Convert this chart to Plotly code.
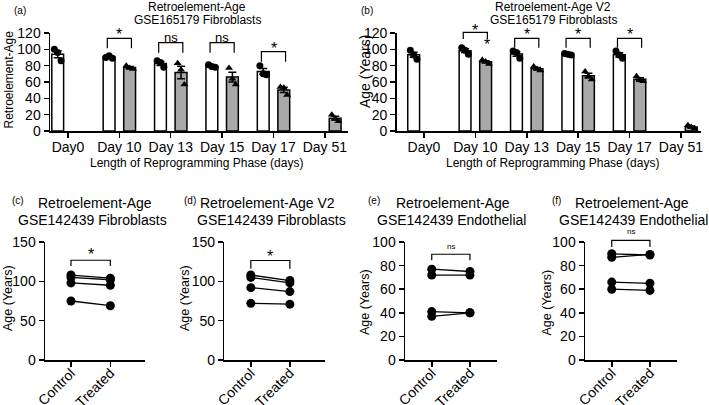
import numpy as np
import plotly.graph_objects as go

W, H = 709, 405

# ---------------- data ----------------
days = ["Day0", "Day 10", "Day 13", "Day 15", "Day 17", "Day 51"]

# panel (a) Retroelement-Age, GSE165179 (3 replicates per group, None = no group)
a_control = [[100, 96, 86], [90, 92, 89], [86, 84, 78], [81, 79, 78], [80, 70, 69], None]
a_treated = [None, [80, 77, 76], [83, 75, 57], [77, 64, 57], [54, 53, 44], [20, 15, 12]]

# panel (b) Retroelement-Age V2, GSE165179
b_control = [[99, 93, 88], [102, 99, 94], [98, 96, 89], [95, 94, 93], [98, 93, 89], None]
b_treated = [None, [87, 85, 82], [79, 76, 74], [73, 67, 63], [67, 62, 61], [7, 5, 3]]

pair_labels = ["Control", "Treated"]
c_control = [108, 105, 98, 75]
c_treated = [104, 102, 95, 69]
d_control = [108, 105, 92, 72]
d_treated = [101, 98, 87, 71]
e_control = [77, 72, 41, 37]
e_treated = [75, 72, 40, 40]
f_control = [90, 87, 66, 60]
f_treated = [89, 89.5, 65, 59]

# ---------------- style ----------------
FONT = "Arial, Liberation Sans, Helvetica, sans-serif"
GRAY = "#a9a9a9"
LW = 1.5
BAR_OFF = 0.2
BAR_W = 0.23
JITTER = [-0.065, 0.0, 0.065]
STAR = 16


def X(p):
    return p / W


def Y(p):
    return 1 - p / H


fig = go.Figure()
shapes = []
ann = []


def add_bar_panel(xa, ya, ctrl, trt):
    for groups, off, fill, sym in [(ctrl, -BAR_OFF, "white", "circle"),
                                   (trt, BAR_OFF, GRAY, "triangle-up")]:
        xs, means, sems, px, py = [], [], [], [], []
        for i, g in enumerate(groups):
            if g is None:
                continue
            arr = np.array(g, dtype=float)
            xs.append(i + off)
            means.append(arr.mean())
            sems.append(arr.std(ddof=1) / np.sqrt(len(arr)))
            for j, v in enumerate(g):
                px.append(i + off + JITTER[j % len(JITTER)])
                py.append(v)
        fig.add_trace(go.Bar(
            x=xs, y=means, width=BAR_W, xaxis=xa, yaxis=ya,
            marker=dict(color=fill, line=dict(color="black", width=LW)),
            error_y=dict(type="data", array=sems, color="black", thickness=LW, width=4),
            showlegend=False, hoverinfo="skip"))
        fig.add_trace(go.Scatter(
            x=px, y=py, mode="markers", xaxis=xa, yaxis=ya,
            marker=dict(symbol=sym, size=7, color="black"),
            showlegend=False, cliponaxis=False, hoverinfo="skip"))


def add_pair_panel(xa, ya, ctrl, trt):
    for c, t in zip(ctrl, trt):
        fig.add_trace(go.Scatter(
            x=[0, 1], y=[c, t], mode="lines+markers", xaxis=xa, yaxis=ya,
            line=dict(color="black", width=1.3),
            marker=dict(symbol="circle", size=9, color="black"),
            showlegend=False, cliponaxis=False, hoverinfo="skip"))


add_bar_panel("x", "y", a_control, a_treated)
add_bar_panel("x2", "y2", b_control, b_treated)
add_pair_panel("x3", "y3", c_control, c_treated)
add_pair_panel("x4", "y4", d_control, d_treated)
add_pair_panel("x5", "y5", e_control, e_treated)
add_pair_panel("x6", "y6", f_control, f_treated)


def star(xr, yr, ymax, x, y, text, size):
    ann.append(dict(xref=xr, yref=yr + " domain", x=x, y=y / ymax,
                    text=text, showarrow=False, font=dict(size=size, color="black", family=FONT),
                    xanchor="center", yanchor="middle"))


def bracket(xr, yr, ymax, x0, x1, ytop, ybot, text, ty, tsize):
    shapes.append(dict(
        type="path", xref=xr, yref=yr + " domain",
        path=f"M {x0},{ybot / ymax} L {x0},{ytop / ymax} L {x1},{ytop / ymax} L {x1},{ybot / ymax}",
        line=dict(color="black", width=1.2)))
    star(xr, yr, ymax, (x0 + x1) / 2, ty, text, tsize)


bw = 0.235
# panel (a)
bracket("x", "y", 120, 1 - bw, 1 + bw, 113.5, 101.2, "*", 118, STAR)
bracket("x", "y", 120, 2 - bw, 2 + bw, 108.1, 95.9, "ns", 114.2, 13)
bracket("x", "y", 120, 3 - bw, 3 + bw, 108.1, 95.9, "ns", 114.2, 13)
bracket("x", "y", 120, 4 - bw, 4 + bw, 97.1, 84.9, "*", 101.5, STAR)
# panel (b)
bracket("x2", "y2", 120, 1 - bw, 1 + bw, 120.8, 112.8, "*", 123, STAR)
star("x2", "y2", 120, 1 + bw, 106.5, "*", STAR)
for k in (2, 3, 4):
    bracket("x2", "y2", 120, k - bw, k + bw, 113.5, 102, "*", 118, STAR)
# bottom panels
bracket("x3", "y3", 150, 0, 1, 126.8, 119.6, "*", 134, STAR)
bracket("x4", "y4", 150, 0, 1, 126.5, 116, "*", 132, STAR)
bracket("x5", "y5", 100, 0, 1, 89.6, 84.5, "ns", 96.3, 8)
bracket("x6", "y6", 100, 0, 1, 101.4, 95.8, "ns", 108.5, 8)


def text(px, py, s, size, angle=0):
    ann.append(dict(xref="paper", yref="paper", x=X(px), y=Y(py), text=s, showarrow=False,
                    textangle=angle, xanchor="center", yanchor="middle",
                    font=dict(size=size, color="black", family=FONT)))


# titles and labels
text(20, 10, "(a)", 10)
text(197, 6.5, "Retroelement-Age", 12)
text(197, 19.5, "GSE165179 Fibroblasts", 12)
text(196, 162.5, "Length of Reprogramming Phase (days)", 12)
text(8.5, 80, "Retroelement-Age", 12, -90)

text(367, 10, "(b)", 10)
text(553, 6.5, "Retroelement-Age V2", 12)
text(553, 19.5, "GSE165179 Fibroblasts", 12)
text(552, 162.5, "Length of Reprogramming Phase (days)", 12)
text(365, 72, "Age (Years)", 14, -90)

bottom = [
    ("(c)", 18, 95, 92, "Retroelement-Age", 8, 298),
    ("(d)", 190, 267, 271, "Retroelement-Age V2", 185, 298),
    ("(e)", 374, 453, 451, "Retroelement-Age", 365, 302),
    ("(f)", 556, 632, 633, "Retroelement-Age", 546.5, 303),
]
for lab, lx, t1x, t2x, t1, yx, yy in bottom:
    text(lx, 201, lab, 10)
    text(t1x, 203, t1, 14)
    text(t2x, 220, "GSE142439 " + ("Fibroblasts" if lab in ("(c)", "(d)") else "Endothelial"), 14)
    text(yx, yy, "Age (Years)", 12.5, -90)

axis_common = dict(showline=True, linecolor="black", linewidth=LW, ticks="outside",
                   ticklen=5, tickwidth=LW, tickcolor="black", showgrid=False,
                   zeroline=False, fixedrange=True, automargin=False,
                   tickfont=dict(size=14, color="black", family=FONT))

layout_axes = {}
# top panels
for n, (x0, x1, r0, r1) in {"": (50, 348, -0.35, 5.45), "2": (396.7, 701, -0.53, 5.39)}.items():
    layout_axes["xaxis" + n] = dict(axis_common, domain=[X(x0), X(x1)], range=[r0, r1],
                                    tickvals=list(range(len(days))), ticktext=days,
                                    ticklabelstandoff=-2, anchor="y" + n)
    layout_axes["yaxis" + n] = dict(axis_common, domain=[Y(131), Y(33)], range=[0, 120],
                                    tick0=0, dtick=20, anchor="x" + n)
# bottom panels
for n, (x0, x1, r0, r1, ymax, dt) in {
        "3": (45, 145, -0.66, 1.88, 150, 50),
        "4": (224.3, 325, -0.68, 1.9, 150, 50),
        "5": (405, 496.7, -0.70, 1.70, 100, 20),
        "6": (585, 676.7, -0.70, 1.70, 100, 20)}.items():
    layout_axes["xaxis" + n] = dict(axis_common, domain=[X(x0), X(x1)], range=[r0, r1],
                                    tickvals=[0, 1], ticktext=pair_labels, tickangle=-45,
                                    ticklabelstandoff=-7, anchor="y" + n)
    layout_axes["yaxis" + n] = dict(axis_common, domain=[Y(360), Y(242)], range=[0, ymax],
                                    tick0=0, dtick=dt, anchor="x" + n)

fig.update_layout(
    template="none",
    width=W, height=H, margin=dict(l=0, r=0, t=0, b=0, autoexpand=False),
    paper_bgcolor="white", plot_bgcolor="white",
    barmode="overlay", showlegend=False,
    font=dict(family=FONT, color="black"),
    shapes=shapes, annotations=ann, **layout_axes)

fig.write_html("out.html", config={"displayModeBar": False, "staticPlot": True},
               post_script="document.body.style.margin='0px';document.body.style.overflow='hidden';")
